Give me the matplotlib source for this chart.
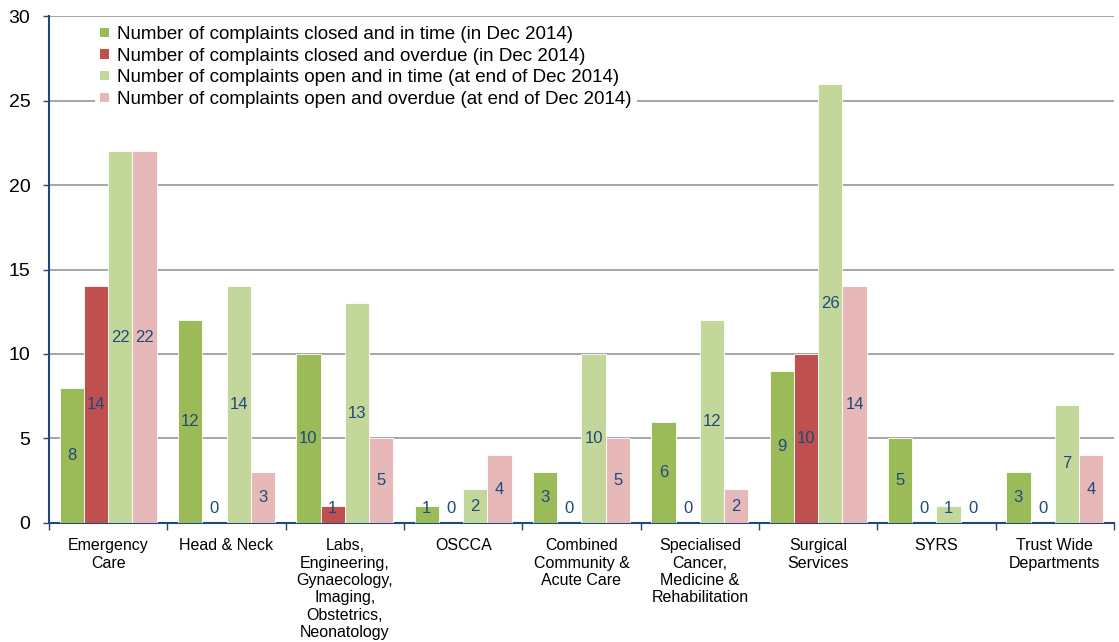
import matplotlib

matplotlib.use("Agg")
import matplotlib.pyplot as plt
import numpy as np

plt.rcParams["font.family"] = ["Liberation Sans", "DejaVu Sans"]

categories = [
    "Emergency\nCare",
    "Head & Neck",
    "Labs,\nEngineering,\nGynaecology,\nImaging,\nObstetrics,\nNeonatology",
    "OSCCA",
    "Combined\nCommunity &\nAcute Care",
    "Specialised\nCancer,\nMedicine &\nRehabilitation",
    "Surgical\nServices",
    "SYRS",
    "Trust Wide\nDepartments",
]
closed_in_time = [8, 12, 10, 1, 3, 6, 9, 5, 3]
closed_overdue = [14, 0, 1, 0, 0, 0, 10, 0, 0]
open_in_time = [22, 14, 13, 2, 10, 12, 26, 1, 7]
open_overdue = [22, 3, 5, 4, 5, 2, 14, 0, 4]

series = [
    ("Number of complaints closed and in time (in Dec 2014)", closed_in_time, "#9BBB59"),
    ("Number of complaints closed and overdue (in Dec 2014)", closed_overdue, "#C0504D"),
    ("Number of complaints open and in time (at end of Dec 2014)", open_in_time, "#C4D79B"),
    ("Number of complaints open and overdue (at end of Dec 2014)", open_overdue, "#E6B8B7"),
]

AXIS = "#1F497D"
fig = plt.figure(figsize=(11.19, 6.42), dpi=100)
ax = fig.add_axes([0.0438, 0.1854, 0.9517, 0.7896])

x = np.arange(len(categories))
bw = 0.205
for i, (name, vals, col) in enumerate(series):
    pos = x + (i - 1.5) * bw
    ax.bar(pos, vals, bw, color=col, edgecolor="white", linewidth=0.6,
           label=name, zorder=3)
    for xp, v in zip(pos, vals):
        # centred labels, kept clear of the axis line for tiny bars
        ax.text(xp, max(v / 2, 0.85), str(v), ha="center", va="center",
                fontsize=12, color=AXIS, zorder=4)

ax.set_xlim(-0.5, len(categories) - 0.5)
ax.set_ylim(0, 30)
ax.set_yticks(range(0, 31, 5))
ax.yaxis.grid(True, color="#A6A6A6", linewidth=1.4, zorder=0)
ax.set_axisbelow(True)

ax.set_xticks(x)
ax.set_xticklabels(categories, fontsize=11.5, linespacing=1.2)
ax.set_xticks(np.arange(-0.5, len(categories)), minor=True)
ax.tick_params(axis="x", which="major", length=0, pad=11)
ax.tick_params(axis="x", which="minor", length=5, color=AXIS, width=1)
ax.tick_params(axis="y", labelsize=14, length=4.5, color=AXIS, width=1, pad=9)

for s in ("top", "right"):
    ax.spines[s].set_visible(False)
for s in ("left", "bottom"):
    ax.spines[s].set_color(AXIS)
    ax.spines[s].set_linewidth(1.5)

leg = ax.legend(loc="upper left", bbox_to_anchor=(0.034, 1.01), fontsize=13.5,
                frameon=True, fancybox=False, edgecolor="none", framealpha=1,
                handlelength=0.45, handleheight=0.4, handletextpad=0.45,
                labelspacing=0.25, borderpad=0.3)
leg.set_zorder(5)
for h in leg.legend_handles:
    h.set_linewidth(0)

fig.savefig("out.png", dpi=100)
